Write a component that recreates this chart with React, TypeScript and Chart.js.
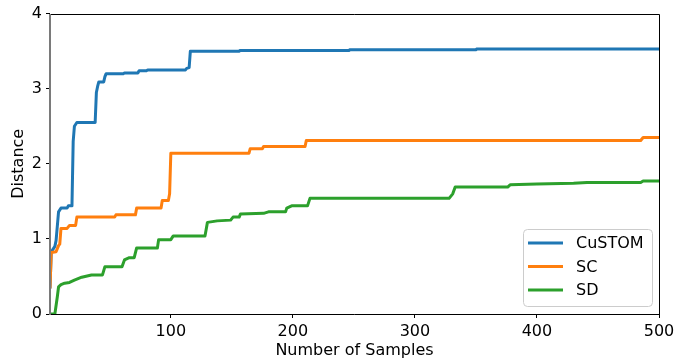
import React, { useEffect, useRef } from "react";
import { Chart, registerables } from "chart.js";

Chart.register(...registerables);

const seriesNames = ["CuSTOM", "SC", "SD"];
const seriesColors = ["#1f77b4", "#ff7f0e", "#2ca02c"];

const custom: [number, number][] = [
  [1, 0.34], [2, 0.82], [3, 0.85], [5, 0.9], [6, 0.98], [8, 1.36], [10, 1.41], [15, 1.41], [16, 1.44], [19, 1.44],
  [20, 2.3], [21, 2.5], [23, 2.55], [38, 2.55], [39, 2.95], [40, 3.03], [41, 3.09], [45, 3.09], [46, 3.16], [47, 3.2],
  [61, 3.2], [62, 3.21], [73, 3.21], [74, 3.24], [80, 3.24], [81, 3.25], [112, 3.25], [113, 3.27], [115, 3.28],
  [116, 3.5], [156, 3.5], [157, 3.51], [246, 3.51], [247, 3.52], [350, 3.52], [351, 3.53], [500, 3.53],
];

const sc: [number, number][] = [
  [1, 0.34], [2, 0.82], [6, 0.83], [8, 0.91], [9, 0.93], [10, 1.14], [15, 1.14], [17, 1.18], [22, 1.18], [23, 1.29],
  [54, 1.29], [55, 1.32], [71, 1.32], [72, 1.41], [92, 1.41], [93, 1.51], [98, 1.51], [99, 1.6], [100, 2.14],
  [164, 2.14], [165, 2.2], [175, 2.2], [176, 2.23], [210, 2.23], [211, 2.31], [485, 2.31], [487, 2.35], [500, 2.35],
];

const sd: [number, number][] = [
  [1, 0], [5, 0], [7, 0.23], [8, 0.36], [10, 0.39], [13, 0.41], [17, 0.42], [21, 0.45], [27, 0.49], [35, 0.52],
  [44, 0.52], [46, 0.63], [60, 0.63], [62, 0.72], [66, 0.75], [70, 0.75], [72, 0.88], [89, 0.88], [90, 0.99],
  [100, 0.99], [102, 1.04], [128, 1.04], [130, 1.22], [138, 1.24], [149, 1.25], [151, 1.29], [156, 1.29],
  [157, 1.33], [176, 1.34], [180, 1.36], [194, 1.36], [195, 1.41], [199, 1.44], [212, 1.44], [214, 1.54],
  [328, 1.54], [331, 1.6], [333, 1.69], [376, 1.69], [378, 1.72], [400, 1.73], [430, 1.74], [441, 1.75],
  [485, 1.75], [487, 1.77], [500, 1.77],
];

const xTicks = [100, 200, 300, 400, 500];
const yTicks = [0, 1, 2, 3, 4];
const xTitle = "Number of Samples";
const yTitle = "Distance";

const FONT = "'DejaVu Sans', sans-serif";

const framePlugin = {
  id: "frame",
  afterDatasetsDraw(chart: any) {
    const { ctx, chartArea: a } = chart;
    ctx.save();
    ctx.strokeStyle = "#000";
    ctx.lineWidth = 1;
    ctx.beginPath();
    ctx.moveTo(Math.round(a.left), Math.round(a.top) + 0.5);
    ctx.lineTo(Math.round(a.right) + 0.5, Math.round(a.top) + 0.5);
    ctx.lineTo(Math.round(a.right) + 0.5, Math.round(a.bottom) + 0.5);
    ctx.lineTo(Math.round(a.left), Math.round(a.bottom) + 0.5);
    ctx.stroke();
    ctx.strokeStyle = "#7a7a7a";
    ctx.lineWidth = 2;
    ctx.beginPath();
    ctx.moveTo(Math.round(a.left), Math.round(a.top));
    ctx.lineTo(Math.round(a.left), Math.round(a.bottom) + 1);
    ctx.stroke();
    ctx.restore();
  },
};

const legendPlugin = {
  id: "customLegend",
  afterDraw(chart: any) {
    const { ctx, chartArea: a } = chart;
    const w = 129;
    const h = 77;
    const x = a.right - 7 - w;
    const y = a.bottom - 8 - h;
    ctx.save();
    ctx.fillStyle = "rgba(255,255,255,0.8)";
    ctx.strokeStyle = "#cccccc";
    ctx.lineWidth = 1;
    ctx.beginPath();
    (ctx as any).roundRect(x + 0.5, y + 0.5, w, h, 4);
    ctx.fill();
    ctx.stroke();
    ctx.font = "16px " + FONT;
    ctx.textBaseline = "middle";
    ctx.textAlign = "left";
    chart.data.datasets.forEach((ds: any, i: number) => {
      const cy = y + 14 + i * 23.5;
      ctx.strokeStyle = ds.borderColor;
      ctx.lineWidth = 3;
      ctx.beginPath();
      ctx.moveTo(x + 5, cy);
      ctx.lineTo(x + 40, cy);
      ctx.stroke();
      ctx.fillStyle = "#000";
      ctx.fillText(ds.label, x + 53, cy + 1);
    });
    ctx.restore();
  },
};

export default function App() {
  const ref = useRef<HTMLCanvasElement>(null);
  useEffect(() => {
    document.body.style.margin = "0";
    const series = [custom, sc, sd];
    const chart = new Chart(ref.current as HTMLCanvasElement, {
      type: "line",
      data: {
        datasets: series.map((s, i) => ({
          label: seriesNames[i],
          data: s.map(([x, y]) => ({ x, y })),
          borderColor: seriesColors[i],
          backgroundColor: seriesColors[i],
          borderWidth: 3,
          pointRadius: 0,
          tension: 0,
          fill: false,
          order: 3 - i,
          borderJoinStyle: "round" as const,
          borderCapStyle: "butt" as const,
        })),
      },
      options: {
        animation: false,
        responsive: false,
        maintainAspectRatio: false,
        layout: { padding: { top: 12, right: 33, left: 0, bottom: 0 } },
        plugins: { legend: { display: false }, tooltip: { enabled: false } },
        scales: {
          x: {
            type: "linear",
            min: 1,
            max: 500,
            afterBuildTicks: (s: any) => {
              s.ticks = xTicks.map((v) => ({ value: v }));
            },
            afterFit: (s: any) => {
              s.height = 46;
            },
            grid: { drawOnChartArea: false, drawTicks: true, tickLength: 4, tickColor: "#000" },
            border: { display: false },
            ticks: { color: "#000", font: { family: FONT, size: 16 }, padding: 4, maxRotation: 0 },
            title: { display: true, text: xTitle, color: "#000", font: { family: FONT, size: 16 }, padding: { top: 0, bottom: 0 } },
          },
          y: {
            type: "linear",
            min: 0,
            max: 4,
            afterBuildTicks: (s: any) => {
              s.ticks = yTicks.map((v) => ({ value: v }));
            },
            afterFit: (s: any) => {
              s.width = 50;
            },
            grid: { drawOnChartArea: false, drawTicks: true, tickLength: 4, tickColor: "#000" },
            border: { display: false },
            ticks: { color: "#000", font: { family: FONT, size: 16 }, padding: 4 },
            title: { display: true, text: yTitle, color: "#000", font: { family: FONT, size: 16 }, padding: { top: 9, bottom: 0 } },
          },
        },
      },
      plugins: [framePlugin, legendPlugin],
    });
    return () => chart.destroy();
  }, []);
  return (
    <div style={{ width: 692, height: 360, position: "relative" }}>
      <canvas ref={ref} width={692} height={360} style={{ display: "block", width: 692, height: 360 }} />
    </div>
  );
}
